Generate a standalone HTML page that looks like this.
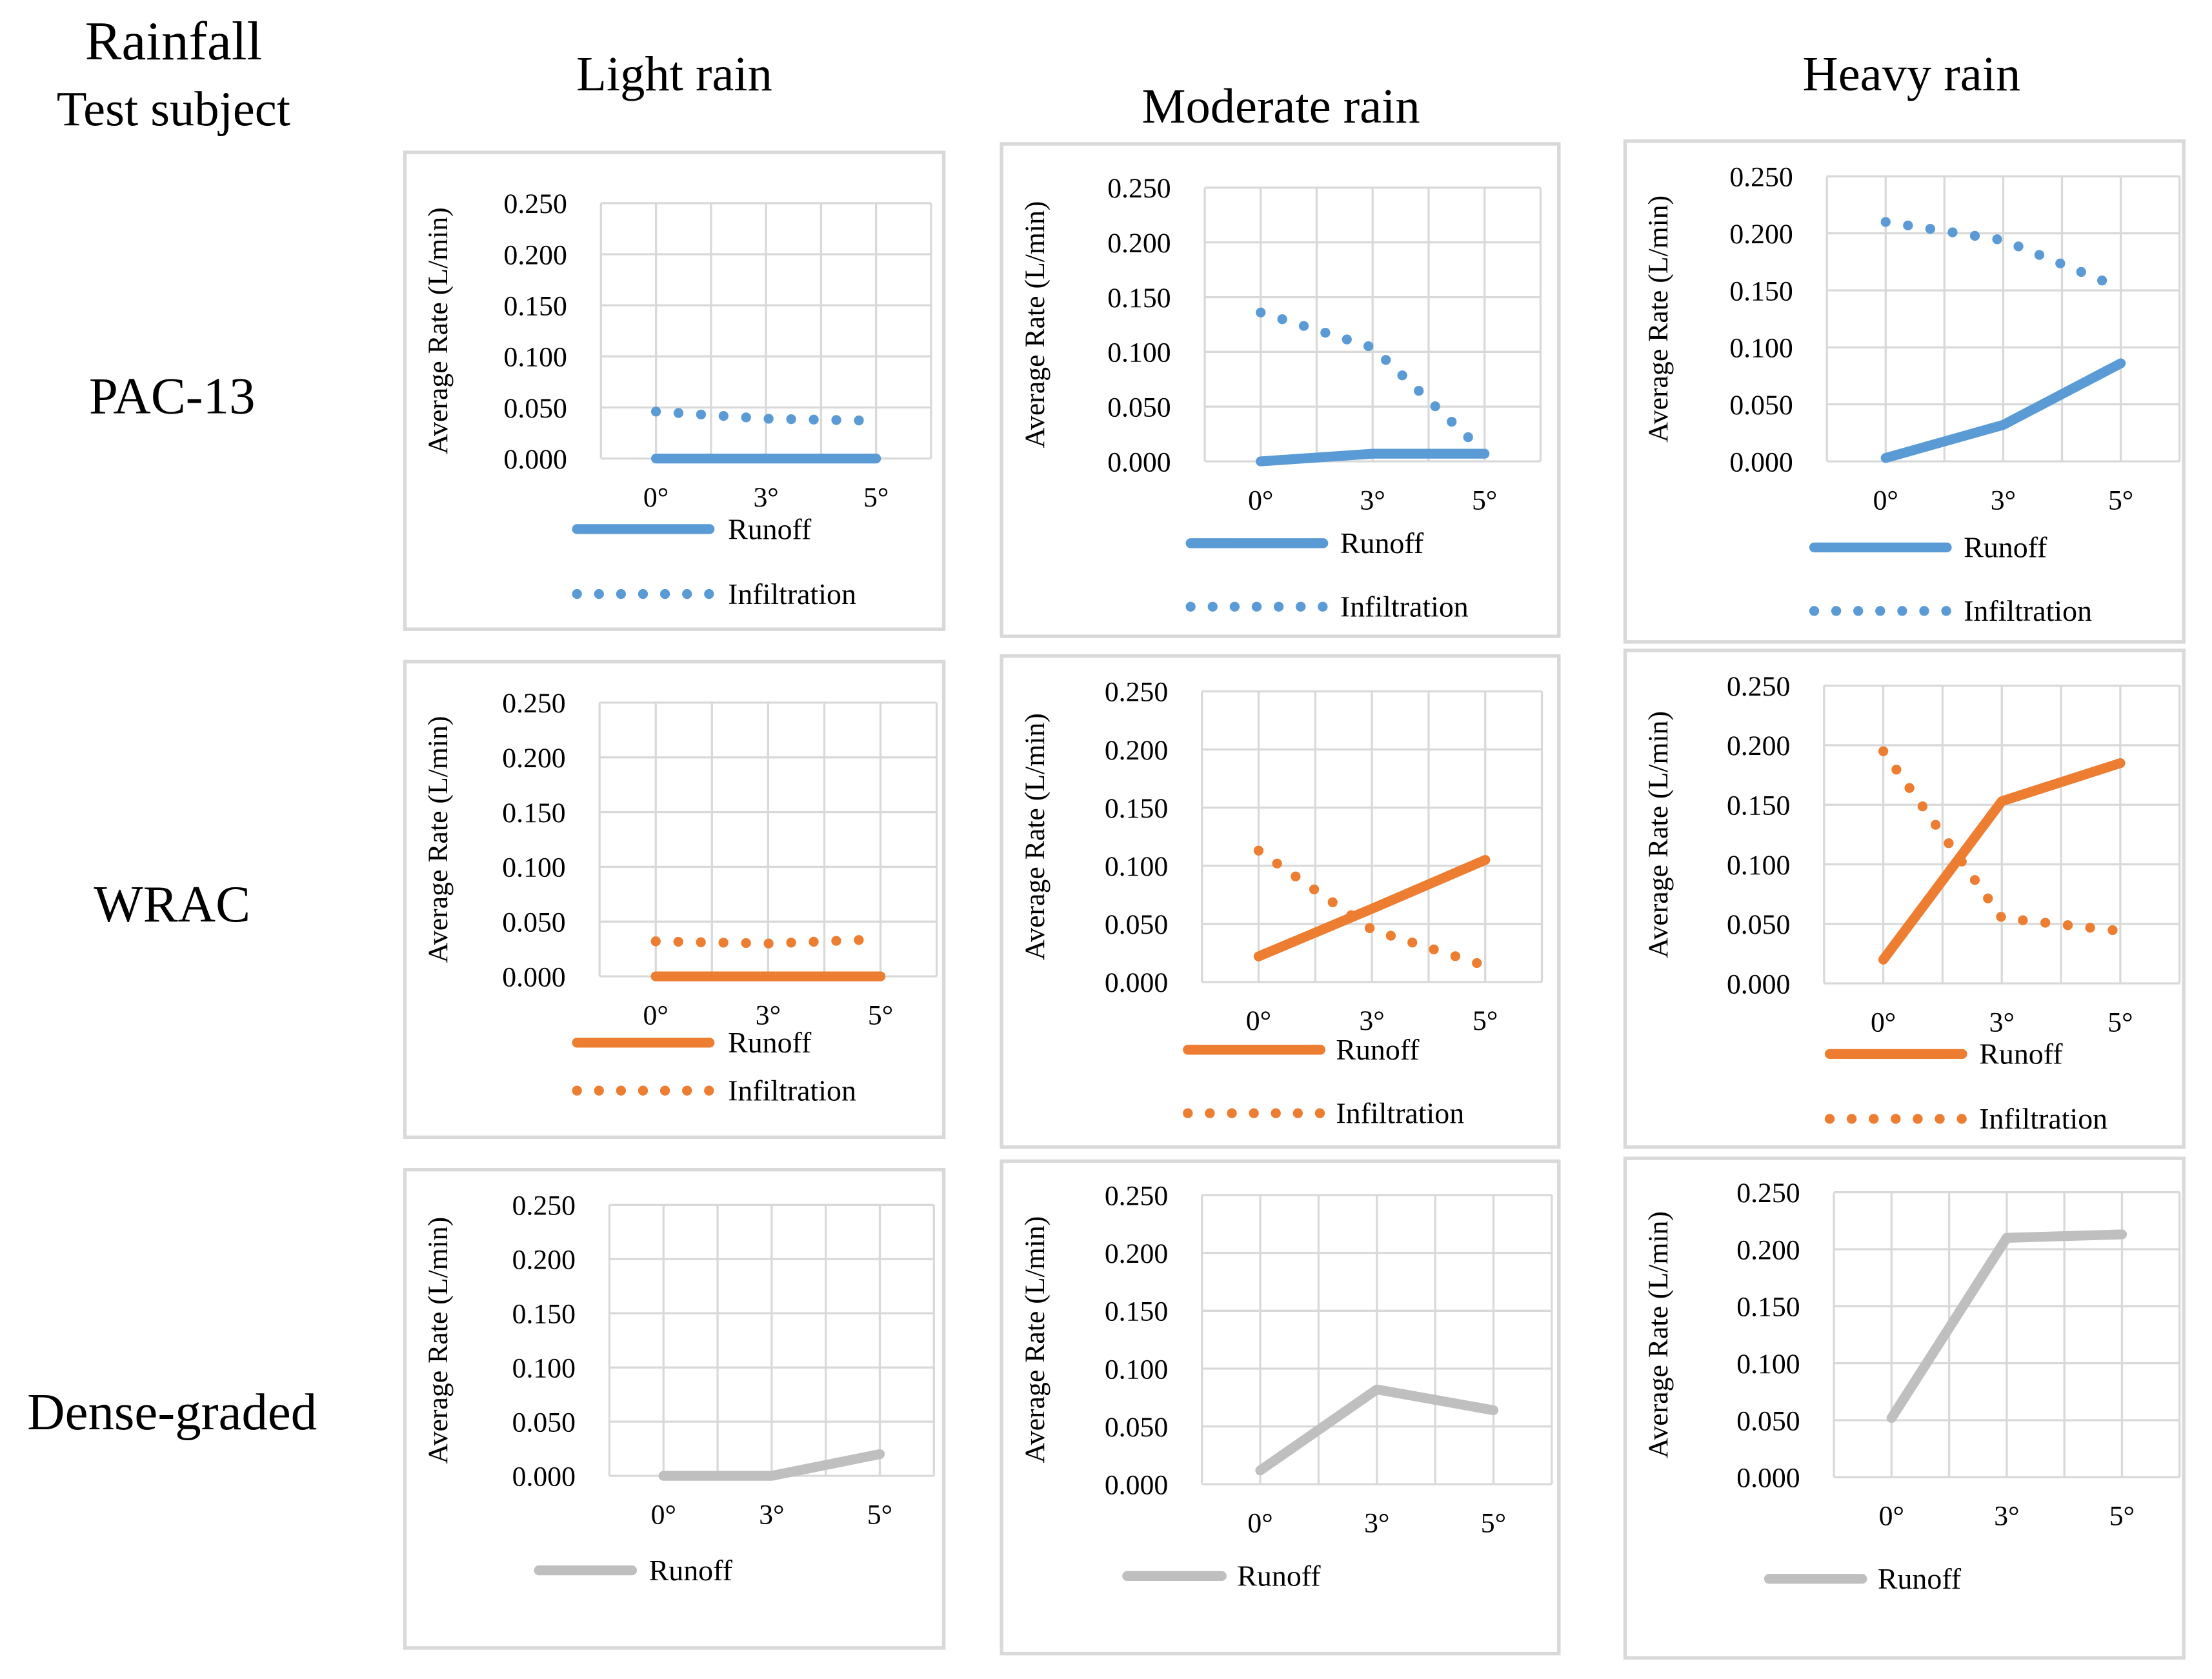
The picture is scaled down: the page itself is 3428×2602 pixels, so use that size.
<!DOCTYPE html>
<html><head><meta charset="utf-8"><style>
html,body{margin:0;padding:0;background:#fff;}
svg{display:block;font-family:"Liberation Serif",serif;}
</style></head><body>
<svg id="c" width="3428" height="2602" viewBox="0 0 1568 1190" preserveAspectRatio="none">
<rect width="1568" height="1190" fill="#fff"/>
<text x="123" y="42" font-size="39" text-anchor="middle">Rainfall</text>
<text x="123" y="89" font-size="35" text-anchor="middle">Test subject</text>
<text x="478" y="64" font-size="35" text-anchor="middle">Light rain</text>
<text x="908" y="87" font-size="35" text-anchor="middle">Moderate rain</text>
<text x="1355" y="64" font-size="35" text-anchor="middle">Heavy rain</text>
<text x="122" y="293" font-size="37" text-anchor="middle">PAC-13</text>
<text x="122" y="653" font-size="37" text-anchor="middle">WRAC</text>
<text x="122" y="1013" font-size="37" text-anchor="middle">Dense-graded</text>
</svg>
<script>
const categories = ["0°","3°","5°"];
const yTicks = ["0.000","0.050","0.100","0.150","0.200","0.250"];
const pac13LightRunoff = [0, 0, 0];
const pac13LightInfil = [0.046, 0.039, 0.037];
const pac13ModRunoff = [0, 0.007, 0.007];
const pac13ModInfil = [0.136, 0.104, 0.008];
const pac13HeavyRunoff = [0.003, 0.032, 0.086];
const pac13HeavyInfil = [0.210, 0.194, 0.152];
const wracLightRunoff = [0, 0, 0];
const wracLightInfil = [0.032, 0.030, 0.034];
const wracModRunoff = [0.022, 0.063, 0.105];
const wracModInfil = [0.113, 0.045, 0.014];
const wracHeavyRunoff = [0.020, 0.153, 0.185];
const wracHeavyInfil = [0.195, 0.055, 0.044];
const denseLightRunoff = [0, 0, 0.020];
const denseModRunoff = [0.012, 0.082, 0.064];
const denseHeavyRunoff = [0.052, 0.210, 0.213];

const NS="http://www.w3.org/2000/svg";
const svg=document.getElementById('c');
function el(t,a,p){const e=document.createElementNS(NS,t);for(const k in a)e.setAttribute(k,a[k]);(p||svg).appendChild(e);return e;}

const panels=[
 {id:'pac13-light',box:[287,108,669,446],px:[426,660],py:[325,144],color:'#5B9BD5',run:pac13LightRunoff,inf:pac13LightInfil,leg:[405,507,516,375,421]},
 {id:'pac13-moderate',box:[710,102,1105,451],px:[854,1092],py:[327,133],color:'#5B9BD5',run:pac13ModRunoff,inf:pac13ModInfil,leg:[840,942,950,385,430]},
 {id:'pac13-heavy',box:[1152,100,1548,455],px:[1295,1545],py:[327,125],color:'#5B9BD5',run:pac13HeavyRunoff,inf:pac13HeavyInfil,leg:[1282,1384,1392,388,433]},
 {id:'wrac-light',box:[287,469,669,806],px:[425,664],py:[692,498],color:'#ED7D31',run:wracLightRunoff,inf:wracLightInfil,leg:[405,507,516,739,773]},
 {id:'wrac-moderate',box:[710,465,1105,813],px:[852,1093],py:[696,490],color:'#ED7D31',run:wracModRunoff,inf:wracModInfil,leg:[838,940,947,744,789]},
 {id:'wrac-heavy',box:[1152,461,1548,813],px:[1293,1545],py:[697,486],color:'#ED7D31',run:wracHeavyRunoff,inf:wracHeavyInfil,leg:[1293,1395,1403,747,793]},
 {id:'dense-light',box:[287,829,669,1168],px:[432,662],py:[1046,854],color:'#BFBFBF',run:denseLightRunoff,inf:null,leg:[378,452,460,1113]},
 {id:'dense-moderate',box:[710,823,1105,1172],px:[852,1100],py:[1052,847],color:'#BFBFBF',run:denseModRunoff,inf:null,leg:[795,870,877,1117]},
 {id:'dense-heavy',box:[1152,821,1548,1175],px:[1300,1545],py:[1047,845],color:'#BFBFBF',run:denseHeavyRunoff,inf:null,leg:[1250,1324,1331,1119]}
];

panels.forEach(p=>{
 const g=el('g',{});
 
 
 const [bx0,by0,bx1,by1]=p.box;
 el('rect',{x:bx0,y:by0,width:bx1-bx0,height:by1-by0,fill:'#fff',stroke:'#d9d9d9','stroke-width':2.5},g);
 const [x0,x1]=p.px,[y0,y1]=p.py;
 const n=categories.length;
 const cw=(x1-x0)/n;
 const xs=i=>x0+cw*(i+0.5);
 const ys=v=>y0-(v/0.25)*(y0-y1);
 for(let k=0;k<=2*n;k++){const x=x0+cw*k/2;el('line',{x1:x,x2:x,y1:y1,y2:y0,stroke:'#d9d9d9','stroke-width':1.5},g);}
 yTicks.forEach((t,i)=>{
  const v=parseFloat(t),y=ys(v);
  el('line',{x1:x0,x2:x1,y1:y,y2:y,stroke:'#d9d9d9','stroke-width':1.5},g);
  const tx=el('text',{x:x0-24,y:y+7,'font-size':20,'text-anchor':'end'},g);tx.textContent=t;
  
  
 });
 categories.forEach((c,i)=>{
  const tx=el('text',{x:xs(i),y:y0+34,'font-size':20,'text-anchor':'middle'},g);tx.textContent=c;
  
  
 });
 const ax=bx0+30, ay=(y0+y1)/2;
 const at=el('text',{x:ax,y:ay,'font-size':20,'text-anchor':'middle',transform:`rotate(-90 ${ax} ${ay})`},g);
 at.textContent='Average Rate (L/min)';
 
 
 const pts=a=>a.map((v,i)=>xs(i)+','+ys(v)).join(' ');
 if(p.inf){
  const d=el('polyline',{points:pts(p.inf),fill:'none',stroke:p.color,'stroke-width':7,'stroke-linecap':'round','stroke-dasharray':'0 16'},g);
  
  
 }
 const r=el('polyline',{points:pts(p.run),fill:'none',stroke:p.color,'stroke-width':7,'stroke-linecap':'round','stroke-linejoin':'round'},g);
 
 
 const L=p.leg;
 const l1=el('line',{x1:L[0]+4,x2:L[1]-4,y1:L[3],y2:L[3],stroke:p.color,'stroke-width':7,'stroke-linecap':'round'},g);
 
 
 const t1=el('text',{x:L[2],y:L[3]+7,'font-size':21},g);t1.textContent='Runoff';
 
 
 if(p.inf){
  const l2=el('line',{x1:L[0]+4,x2:L[1]-4,y1:L[4],y2:L[4],stroke:p.color,'stroke-width':7,'stroke-linecap':'round','stroke-dasharray':'0 15.6'},g);
  
  
  const t2=el('text',{x:L[2],y:L[4]+7,'font-size':21},g);t2.textContent='Infiltration';
  
  
 }
});
</script>
</body></html>
